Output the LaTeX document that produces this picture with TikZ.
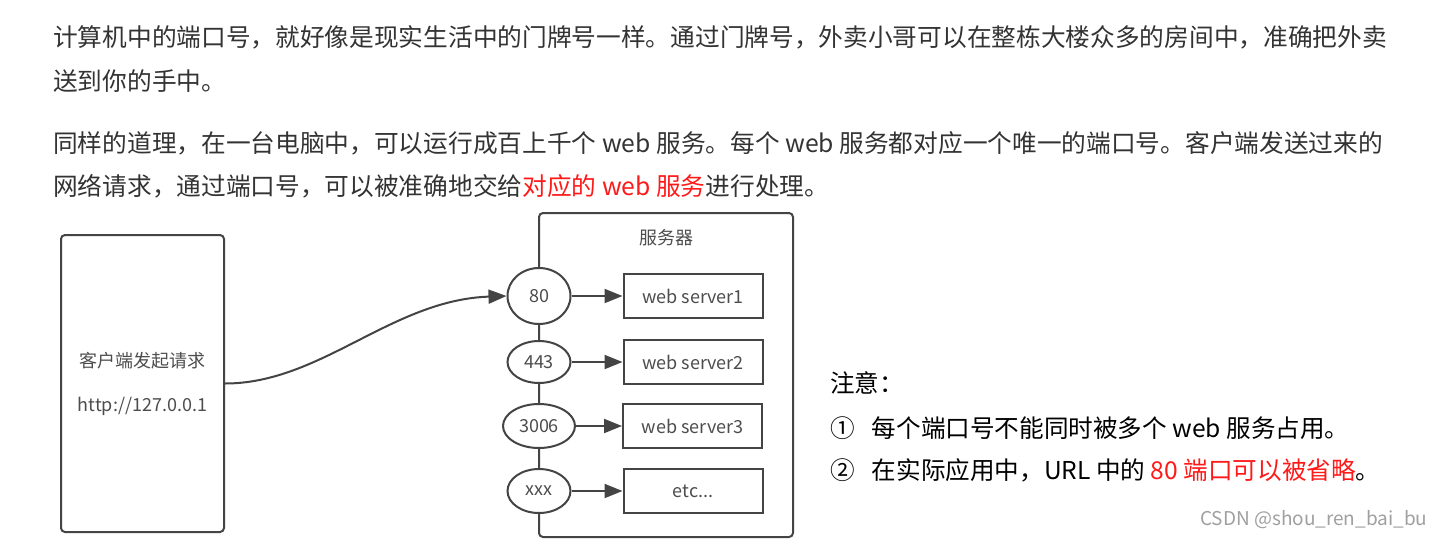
\documentclass[tikz,border=0pt]{standalone}
\usepackage{fontspec}
\setmainfont{Noto Sans CJK SC}
\usepackage{tikz}
\usetikzlibrary{shapes.geometric, positioning, arrows.meta}
\definecolor{linegray}{HTML}{444444}
\definecolor{textgray}{HTML}{333333}
\definecolor{diagtext}{HTML}{4D4D4D}
\definecolor{markred}{HTML}{FF1A1A}
\definecolor{wmgray}{HTML}{A0A0A0}
\tikzset{
  para/.style={anchor=west, inner sep=0pt, text=textgray, font=\fontsize{24.7}{30}\selectfont},
  note/.style={anchor=west, inner sep=0pt, text=black, font=\fontsize{24.6}{30}\selectfont},
  frame/.style={rectangle, rounded corners=4pt, draw=linegray, line width=2pt, inner sep=0pt, text=diagtext, font=\fontsize{18}{44}\selectfont},
  port/.style={ellipse, draw=linegray, line width=2pt, fill=white, inner sep=0pt, minimum width=63pt, minimum height=44pt, text=diagtext, font=\fontsize{18}{20}\selectfont},
  webbox/.style={rectangle, draw=linegray, line width=2pt, fill=white, inner sep=0pt, minimum width=139pt, minimum height=44pt, text=diagtext, font=\fontsize{18}{20}\selectfont},
  arrow/.style={draw=linegray, line width=2pt, -{Triangle[length=18pt, width=14pt]}}
}
\begin{document}
\begin{tikzpicture}[x=1pt, y=-1pt]
    \path[use as bounding box, fill=white] (0,0) rectangle (1436,539);

    % 正文
    \node (line1) [para] at (53,37) {计算机中的端口号，就好像是现实生活中的门牌号一样。通过门牌号，外卖小哥可以在整栋大楼众多的房间中，准确把外卖};
    \node (line2) [para] at (53,81) {送到你的手中。};
    \node (line3) [para] at (53,143) {同样的道理，在一台电脑中，可以运行成百上千个 web 服务。每个 web 服务都对应一个唯一的端口号。客户端发送过来的};
    \node (line4) [para] at (53,186) {网络请求，通过端口号，可以被准确地交给\textcolor{markred}{对应的 web 服务}进行处理。};

    % 客户端
    \node (client) [frame, align=center, minimum width=163pt, minimum height=297pt] at (142.5,383.5)
    {客户端发起请求\\http://127.0.0.1};

    % 服务器
    \node (server) [frame, minimum width=254pt, minimum height=324pt] at (666,375) {};
    \node (srvname) [text=diagtext, font=\fontsize{18}{20}\selectfont, inner sep=0pt] at (666,238) {服务器};

    \node (p80) [port, minimum height=56pt] at (539,296) {80};
    \node (p443) [port, minimum height=42pt, below=15pt of p80] {443};
    \node (p3006) [port, minimum width=72pt, below=19pt of p443] {3006};
    \node (pxxx) [port, below=19pt of p3006] {xxx};

    \node (srv1) [webbox, right=51pt of p80] {web server1};
    \node (srv2) [webbox, right=51pt of p443] {web server2};
    \node (srv3) [webbox, right=46pt of p3006] {web server3};
    \node (etc) [webbox, right=51pt of pxxx] {etc...};

    % 箭头
    \draw [arrow] (client.east) .. controls +(96,0) and +(-115,4) .. (p80.west);
    \draw [arrow] (p80) -- (srv1);
    \draw [arrow] (p443) -- (srv2);
    \draw [arrow] (p3006) -- (srv3);
    \draw [arrow] (pxxx) -- (etc);

    % 注意
    \node (notehead) [note] at (830,383) {注意：};
    \node (note1) [note] at (830,428) {①\hspace{17pt}每个端口号不能同时被多个 web 服务占用。};
    \node (note2) [note] at (830,470) {②\hspace{17pt}在实际应用中，URL 中的 \textcolor{markred}{80 端口可以被省略}。};

    \node (mark) [anchor=west, inner sep=0pt, text=wmgray, font=\fontsize{19}{20}\selectfont] at (1200,520) {CSDN @shou\_ren\_bai\_bu};
\end{tikzpicture}
\end{document}
